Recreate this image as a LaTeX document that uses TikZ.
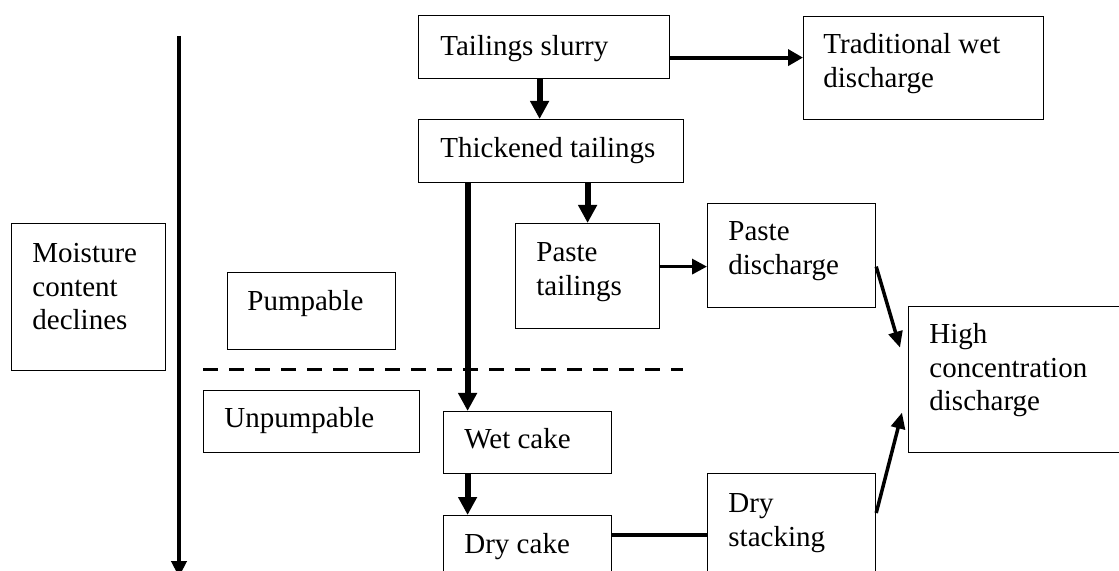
\documentclass[tikz,border=0pt]{standalone}
\usepackage{fontspec}
\setmainfont{Liberation Serif}
\usetikzlibrary{arrows.meta}
\begin{document}
\begin{tikzpicture}[x=0.5pt,y=-0.5pt,
  box/.style n args={2}{draw, line width=0.6pt, rectangle, inner sep=0pt, anchor=north west,
     minimum width=#1*0.5pt, minimum height=#2*0.5pt},
  lbl/.style={font=\fontsize{14.5}{16.8}\selectfont, align=left, inner sep=0pt, anchor=north west},
  varr/.style={line width=3pt, -{Triangle[width=9pt,length=9pt]}},
  harr/.style={line width=2pt, -{Triangle[width=8pt,length=7.5pt]}},
  harrthin/.style={line width=1.7pt, -{Triangle[width=7.5pt,length=7.5pt]}},
  darr/.style={line width=1.75pt, -{Triangle[width=7pt,length=8pt]}},
  mainarr/.style={line width=2pt, -{Triangle[width=7.5pt,length=8pt]}},
  plainline/.style={line width=2pt},
  divider/.style={line width=1.75pt, dash pattern=on 7.5pt off 5.5pt}]
\useasboundingbox (0,0) rectangle (1119,571);
\clip (0,0) rectangle (1119,571);

% boxes
\node[box={251}{63}] (slurry) at (418,15) {};
\node[box={240}{103}] (trad) at (803,16) {};
\node[box={265}{63}] (thick) at (418,119) {};
\node[box={144}{105}] (pastet) at (515,223) {};
\node[box={168}{104}] (pasted) at (707,203) {};
\node[box={240}{146}] (hcd) at (908,306) {};
\node[box={154}{147}] (moist) at (11,223) {};
\node[box={168}{77}] (pump) at (227,272) {};
\node[box={216}{62}] (unpump) at (203,390) {};
\node[box={168}{62}] (wet) at (443,411) {};
\node[box={168}{100}] (dry) at (443,515) {};
\node[box={168}{120}] (drystack) at (707,473) {};

% texts
\node[lbl] (slurry-t) at (440,31.5) {\strut Tailings slurry};
\node[lbl] (trad-t) at (823,29.5) {\strut Traditional wet\\discharge};
\node[lbl] (thick-t) at (440,133.5) {\strut Thickened tailings};
\node[lbl] (pastet-t) at (536,237.5) {\strut Paste\\tailings};
\node[lbl] (pasted-t) at (728,216.5) {\strut Paste\\discharge};
\node[lbl] (hcd-t) at (929,319.5) {\strut High\\concentration\\discharge};
\node[lbl] (moist-t) at (32,238.5) {\strut Moisture\\content\\declines};
\node[lbl] (pump-t) at (247,286.5) {\strut Pumpable};
\node[lbl] (unpump-t) at (224,403.5) {\strut Unpumpable};
\node[lbl] (wet-t) at (464,424.5) {\strut Wet cake};
\node[lbl] (dry-t) at (464,529.5) {\strut Dry cake};
\node[lbl] (drystack-t) at (728,488.5) {\strut Dry\\stacking};

% connectors
\draw[varr] ([xshift=-2.25pt]slurry.south) -- ([xshift=-2.25pt]slurry.south |- thick.north);
\draw[harr] ([yshift=-5.25pt]slurry.east) -- ([yshift=-5.25pt]slurry.east -| trad.west);
\draw[varr] ([xshift=-41.75pt]thick.south) -- ([xshift=-41.75pt]thick.south |- wet.north);
\draw[varr] (pastet.north |- thick.south) -- (pastet.north);
\draw[harrthin] ([yshift=4.75pt]pastet.east) -- ([yshift=4.75pt]pastet.east -| pasted.west);
\draw[darr] ([yshift=-5.5pt]pasted.east) -- ([xshift=-4pt,yshift=16pt]hcd.west);
\draw[darr] ([yshift=-20pt]drystack.north east) -- ([xshift=-3pt,yshift=-16.5pt]hcd.west);
\draw[varr] ([xshift=-30pt]wet.south) -- ([xshift=-30pt]wet.south |- dry.north);
\draw[plainline] ([yshift=-10pt]dry.north east) -- ([yshift=-10pt]dry.north east -| drystack.west);

% moisture axis and divider
\coordinate (mtop) at (179,36);
\coordinate (mbot) at (179,577);
\draw[mainarr] (mtop) -- (mbot);
\coordinate (dl) at (203,369.5);
\coordinate (dr) at (683,369.5);
\draw[divider] (dl) -- (dr);
\end{tikzpicture}
\end{document}
